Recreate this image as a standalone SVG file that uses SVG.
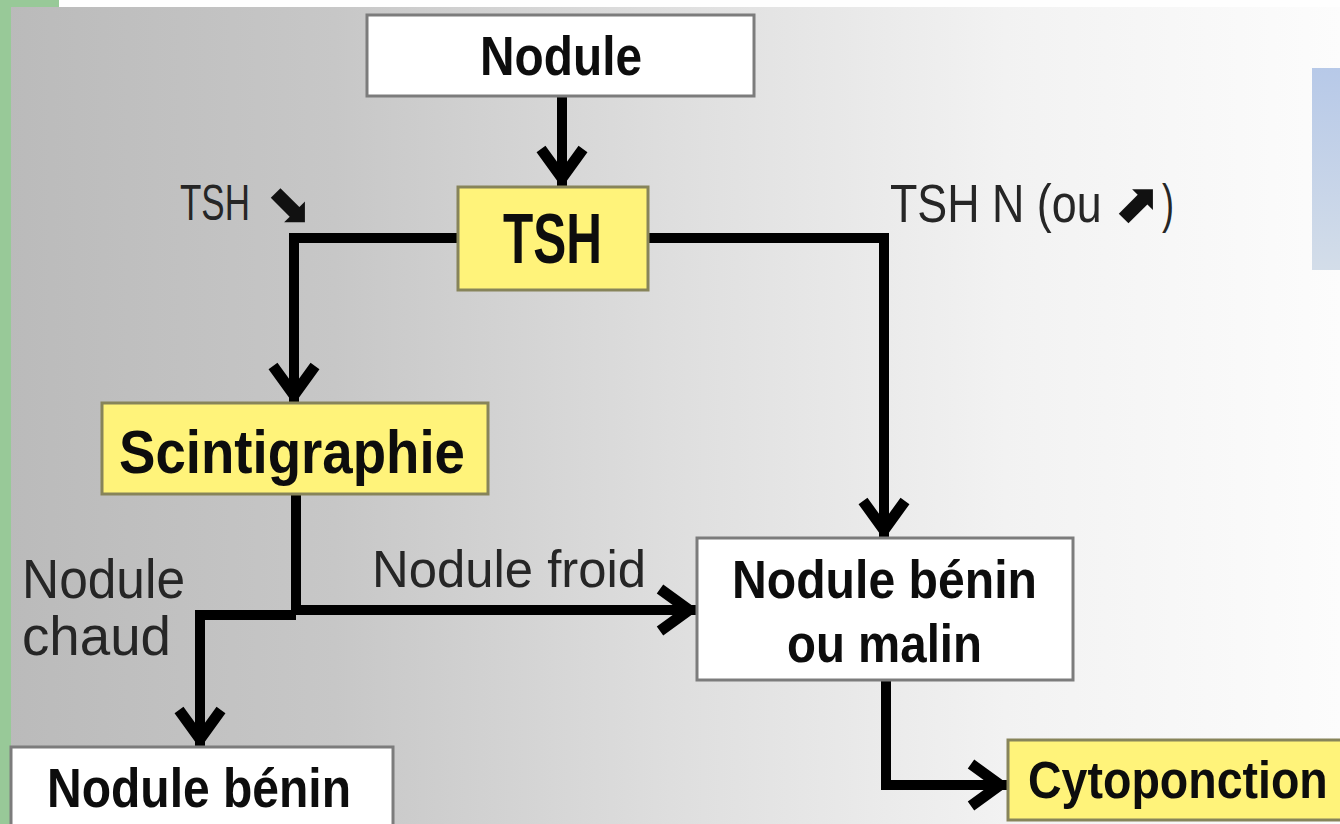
<svg xmlns="http://www.w3.org/2000/svg" width="1340" height="824" viewBox="0 0 1340 824">
  <defs>
    <linearGradient id="bg" x1="0" y1="0" x2="1" y2="0">
      <stop offset="0" stop-color="#bababa"/>
      <stop offset="0.25" stop-color="#c7c7c7"/>
      <stop offset="0.5" stop-color="#dedede"/>
      <stop offset="0.75" stop-color="#f2f2f2"/>
      <stop offset="1" stop-color="#fcfcfc"/>
    </linearGradient>
    <linearGradient id="blue" x1="0" y1="0" x2="0" y2="1">
      <stop offset="0" stop-color="#b7c9e8"/>
      <stop offset="1" stop-color="#d3dde9"/>
    </linearGradient>
    <marker id="chev" markerUnits="userSpaceOnUse" orient="auto" refX="0" refY="0" markerWidth="70" markerHeight="70" viewBox="-45 -35 70 70" overflow="visible">
      <path d="M-37,-21 L-8,0 L-37,21" fill="none" stroke="#000" stroke-width="11" stroke-linejoin="miter"/>
    </marker>
    <style>
      .box-w { fill: #ffffff; stroke: #7c7c7c; stroke-width: 3; }
      .box-y { fill: #fff37a; stroke: #87845a; stroke-width: 3; }
      .t-bold { font-family: "Liberation Sans", Arial, sans-serif; font-weight: bold; fill: #0d0d0d; }
      .t-lab { font-family: "Liberation Sans", Arial, sans-serif; font-weight: normal; fill: #262626; }
      .t-arr { font-family: "DejaVu Sans", sans-serif; font-weight: bold; fill: #111; }
      .link { fill: none; stroke: #000; stroke-width: 10; stroke-linejoin: miter; marker-end: url(#chev); }
    </style>
  </defs>

  <!-- slide background -->
  <rect x="0" y="0" width="1340" height="824" fill="url(#bg)"/>
  <rect x="0" y="0" width="1340" height="7" fill="#fefefe"/>
  <rect x="0" y="0" width="59" height="7" fill="#98c998"/>
  <rect x="0" y="0" width="11" height="824" fill="#98c998"/>
  <rect x="1312" y="68" width="28" height="202" fill="url(#blue)"/>

  <!-- connectors -->
  <g id="connectors">
    <path class="link" d="M562,96 V186" stroke-width="8"/>
    <path class="link" d="M458,238 H294 V403"/>
    <path class="link" d="M648,238 H884 V538"/>
    <path class="link" d="M296,494 V610 H697"/>
    <path class="link" d="M296,615 H200 V747"/>
    <path class="link" d="M886,680 V785 H1008"/>
  </g>

  <!-- branch labels (narrow labels are squeezed horizontally) -->
  <g id="labels">
    <text class="t-lab" transform="translate(180,220) scale(0.7,1)" font-size="50">TSH</text>
    <text class="t-arr" x="264" y="221" font-size="55">⬊</text>
    <text class="t-lab" transform="translate(890,222) scale(0.83,1)" font-size="54">TSH N (ou</text>
    <text class="t-arr" x="1112" y="222" font-size="55">⬈</text>
    <text class="t-lab" x="1162" y="222" font-size="54" textLength="12" lengthAdjust="spacingAndGlyphs">)</text>
    <text class="t-lab" x="22" y="598" font-size="56" textLength="163" lengthAdjust="spacingAndGlyphs">Nodule</text>
    <text class="t-lab" x="22" y="655" font-size="56" textLength="149" lengthAdjust="spacingAndGlyphs">chaud</text>
    <text class="t-lab" x="372" y="587" font-size="52" textLength="274" lengthAdjust="spacingAndGlyphs">Nodule froid</text>
  </g>

  <g id="node-nodule">
    <rect class="box-w" x="367" y="15" width="387" height="81"/>
    <text class="t-bold" x="480" y="75" font-size="56" textLength="162" lengthAdjust="spacingAndGlyphs">Nodule</text>
  </g>

  <g id="node-tsh">
    <rect class="box-y" x="458" y="187" width="190" height="103"/>
    <text class="t-bold" x="503" y="263" font-size="70" textLength="99" lengthAdjust="spacingAndGlyphs">TSH</text>
  </g>

  <g id="node-scintigraphie">
    <rect class="box-y" x="102" y="403" width="386" height="91"/>
    <text class="t-bold" x="119" y="473" font-size="62" textLength="346" lengthAdjust="spacingAndGlyphs">Scintigraphie</text>
  </g>

  <g id="node-benin-malin">
    <rect class="box-w" x="697" y="538" width="376" height="142"/>
    <text class="t-bold" x="732" y="598" font-size="53" textLength="305" lengthAdjust="spacingAndGlyphs">Nodule bénin</text>
    <text class="t-bold" x="787" y="662" font-size="53" textLength="195" lengthAdjust="spacingAndGlyphs">ou malin</text>
  </g>

  <g id="node-benin">
    <rect class="box-w" x="11" y="747" width="382" height="90"/>
    <text class="t-bold" x="47" y="807" font-size="55" textLength="304" lengthAdjust="spacingAndGlyphs">Nodule bénin</text>
  </g>

  <g id="node-cytoponction">
    <rect class="box-y" x="1008" y="740" width="345" height="80"/>
    <text class="t-bold" transform="translate(1028,798) scale(0.895,1)" font-size="52">Cytoponction</text>
  </g>
</svg>
